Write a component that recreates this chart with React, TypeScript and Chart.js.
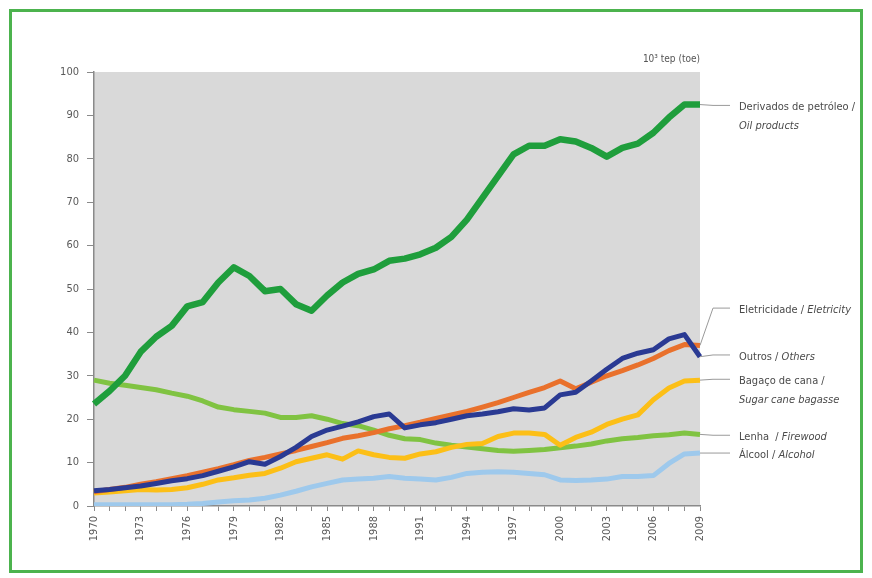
import React, { useEffect, useRef } from "react";
import { Chart, registerables } from "chart.js";

Chart.register(...registerables);

const YEARS = [
  "1970","1971","1972","1973","1974","1975","1976","1977","1978","1979",
  "1980","1981","1982","1983","1984","1985","1986","1987","1988","1989",
  "1990","1991","1992","1993","1994","1995","1996","1997","1998","1999",
  "2000","2001","2002","2003","2004","2005","2006","2007","2008","2009",
];

const OIL = [23.5, 26.5, 30, 35.5, 39, 41.5, 46, 47, 51.5, 55, 53, 49.5, 50, 46.5, 45, 48.5, 51.5, 53.5, 54.5, 56.5, 57, 58, 59.5, 62, 66, 71, 76, 81, 83, 83, 84.5, 84, 82.5, 80.5, 82.5, 83.5, 86, 89.5, 92.5, 92.5];
const ELECTRICITY = [3.3, 3.8, 4.3, 5, 5.6, 6.3, 7, 7.8, 8.6, 9.5, 10.5, 11.2, 12, 12.8, 13.7, 14.6, 15.6, 16.2, 16.9, 17.8, 18.5, 19.3, 20.2, 21, 21.8, 22.8, 23.8, 25, 26.2, 27.3, 28.8, 27, 28.5, 30, 31.2, 32.5, 34, 35.8, 37.2, 37];
const OTHERS = [3.5, 3.8, 4.2, 4.6, 5.2, 5.8, 6.3, 7, 8, 9, 10.2, 9.6, 11.4, 13.5, 16, 17.5, 18.4, 19.4, 20.6, 21.2, 18, 18.7, 19.2, 20, 20.8, 21.2, 21.7, 22.4, 22.1, 22.6, 25.6, 26.2, 28.8, 31.5, 34, 35.2, 36, 38.5, 39.5, 34.4];
const BAGASSE = [3, 3.2, 3.5, 3.8, 3.7, 3.8, 4.2, 5, 6, 6.5, 7.1, 7.5, 8.7, 10.2, 11, 11.8, 10.8, 12.7, 11.8, 11.2, 11, 12, 12.5, 13.5, 14.2, 14.4, 16, 16.8, 16.8, 16.5, 14, 15.8, 17, 18.8, 20, 21, 24.5, 27.2, 28.8, 29];
const FIREWOOD = [29, 28.3, 27.8, 27.3, 26.8, 26, 25.3, 24.2, 22.8, 22.2, 21.8, 21.4, 20.4, 20.4, 20.8, 20, 19, 18.5, 17.5, 16.3, 15.5, 15.3, 14.5, 14, 13.6, 13.2, 12.8, 12.6, 12.8, 13, 13.4, 13.8, 14.3, 15, 15.5, 15.8, 16.2, 16.4, 16.8, 16.5];
const ALCOHOL = [0.3, 0.3, 0.3, 0.3, 0.3, 0.3, 0.4, 0.6, 0.9, 1.2, 1.4, 1.8, 2.5, 3.4, 4.4, 5.2, 6, 6.2, 6.4, 6.8, 6.4, 6.2, 6, 6.6, 7.5, 7.8, 7.9, 7.8, 7.5, 7.2, 6, 5.9, 6, 6.2, 6.8, 6.8, 7, 9.8, 12, 12.2];

const Y_TICKS = [0, 10, 20, 30, 40, 50, 60, 70, 80, 90, 100];
const UNIT_LABEL = "10³ tep (toe)";

// Right-side series labels: anchor value (axis units) and text lines [text, italic]
const SERIES_LABELS = [
  { series: "oil", anchor: 92.3, lines: [[["Derivados de petróleo /", false]], [["Oil products", true]]] },
  { series: "ele", anchor: 45.6, lines: [[["Eletricidade / ", false], ["Eletricity", true]]] },
  { series: "oth", anchor: 34.8, lines: [[["Outros / ", false], ["Others", true]]] },
  { series: "bag", anchor: 29.2, lines: [[["Bagaço de cana /", false]], [["Sugar cane bagasse", true]]] },
  { series: "fir", anchor: 16.3, lines: [[["Lenha  / ", false], ["Firewood", true]]] },
  { series: "alc", anchor: 12.2, lines: [[["Álcool / ", false], ["Alcohol", true]]] },
];

const FONT = "'Liberation Sans Narrow', 'DejaVu Sans Condensed', 'Liberation Sans', sans-serif";

export default function App() {
  const ref = useRef<HTMLCanvasElement>(null);

  useEffect(() => {
    if (!ref.current) return;
    const seriesMap: Record<string, number[]> = {
      oil: OIL, ele: ELECTRICITY, oth: OTHERS, bag: BAGASSE, fir: FIREWOOD, alc: ALCOHOL,
    };

    const decor = {
      id: "decor",
      beforeDraw(chart: any) {
        const { ctx, chartArea: a } = chart;
        ctx.save();
        ctx.fillStyle = "#ffffff";
        ctx.fillRect(0, 0, chart.width, chart.height);
        ctx.fillStyle = "#d9d9d9";
        ctx.fillRect(a.left, a.top, a.right - a.left, a.bottom - a.top);
        ctx.restore();
      },
      afterDraw(chart: any) {
        const { ctx, chartArea: a } = chart;
        const y = chart.scales.y;
        ctx.save();
        // border
        ctx.strokeStyle = "#4cb34e";
        ctx.lineWidth = 3;
        ctx.strokeRect(10.5, 10.5, chart.width - 21, chart.height - 17);
        // unit label
        ctx.fillStyle = "#555";
        ctx.font = `10px ${FONT}`;
        ctx.textAlign = "right";
        ctx.textBaseline = "middle";
        ctx.fillText(UNIT_LABEL, a.right, a.top - 13);
        // series labels
        ctx.textAlign = "left";
        for (const lab of SERIES_LABELS) {
          const data = seriesMap[lab.series];
          const yData = y.getPixelForValue(data[data.length - 1]);
          const yLab = y.getPixelForValue(lab.anchor);
          ctx.strokeStyle = "#9a9a9a";
          ctx.lineWidth = 1;
          ctx.beginPath();
          ctx.moveTo(a.right, yData);
          ctx.lineTo(a.right + 13, yLab);
          ctx.lineTo(a.right + 30, yLab);
          ctx.stroke();
          let ty = yLab + 2;
          for (const line of lab.lines) {
            let tx = a.right + 39;
            for (const [t, it] of line as any) {
              ctx.font = `${it ? "italic " : ""}11px ${FONT}`;
              ctx.fillStyle = "#4a4a4a";
              ctx.fillText(t, tx, ty);
              tx += ctx.measureText(t).width;
            }
            ty += 19;
          }
        }
        ctx.restore();
      },
    };

    const ds = (label: string, data: number[], color: string, w: number) => ({
      label, data, borderColor: color, backgroundColor: color, borderWidth: w,
      pointRadius: 0, tension: 0, fill: false, borderJoinStyle: "round" as const, borderCapStyle: "butt" as const,
    });

    const chart = new Chart(ref.current, {
      type: "line",
      data: {
        labels: YEARS,
        datasets: [
          ds("Derivados de petróleo / Oil products", OIL, "#1f9e3c", 6.5),
          ds("Outros / Others", OTHERS, "#2a3a93", 5),
          ds("Eletricidade / Eletricity", ELECTRICITY, "#e9712c", 5),
          ds("Bagaço de cana / Sugar cane bagasse", BAGASSE, "#fcbf17", 5),
          ds("Lenha / Firewood", FIREWOOD, "#80c342", 5),
          ds("Álcool / Alcohol", ALCOHOL, "#9ec9ec", 5),
        ],
      },
      options: {
        animation: false,
        responsive: false,
        maintainAspectRatio: false,
        layout: { padding: { left: 0, top: 72, right: 172, bottom: 0 } },
        plugins: { legend: { display: false }, tooltip: { enabled: false } },
        scales: {
          x: {
            type: "category",
            offset: false,
            grid: { display: true, drawOnChartArea: false, drawTicks: true, tickLength: 5, color: "#8a8a8a" },
            border: { color: "#8a8a8a", width: 1.5 },
            ticks: {
              autoSkip: false,
              minRotation: 90,
              maxRotation: 90,
              padding: 5,
              color: "#5a5a5a",
              font: { family: FONT, size: 11 },
              callback: (_v: any, i: number) => (i % 3 === 0 ? YEARS[i] : ""),
            },
            afterFit: (s: any) => { s.height = 72; },
          },
          y: {
            min: 0,
            max: 100,
            afterBuildTicks: (s: any) => { s.ticks = Y_TICKS.map((v) => ({ value: v })); },
            grid: { display: true, drawOnChartArea: false, drawTicks: true, tickLength: 7, color: "#8a8a8a" },
            border: { color: "#8a8a8a", width: 1.5 },
            ticks: { padding: 8, color: "#5a5a5a", font: { family: FONT, size: 11 } },
            afterFit: (s: any) => { s.width = 94; },
          },
        },
      },
      plugins: [decor],
    } as any);
    return () => chart.destroy();
  }, []);

  return (
    <div style={{ position: "fixed", left: 0, top: 0, width: 872, height: 578, background: "#fff" }}>
      <canvas ref={ref} width={872} height={578} style={{ width: 872, height: 578, display: "block" }} />
    </div>
  );
}
